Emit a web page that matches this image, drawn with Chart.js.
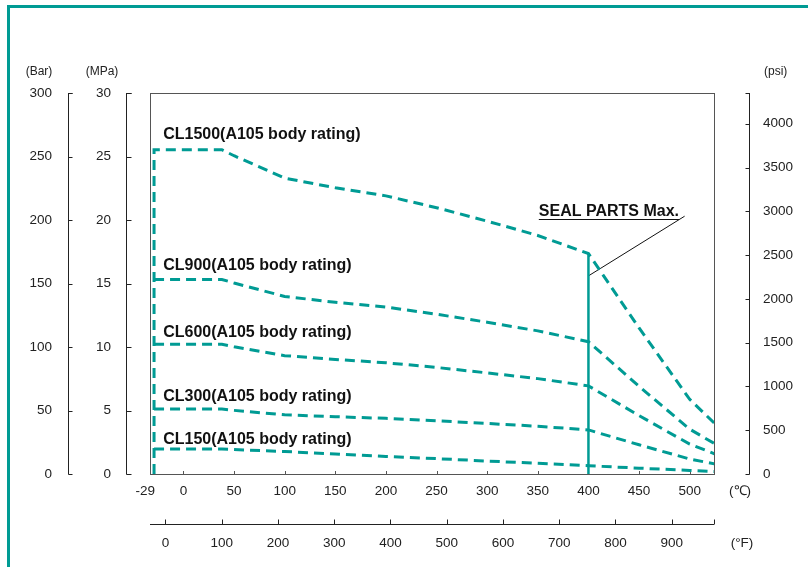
<!DOCTYPE html>
<html>
<head>
<meta charset="utf-8">
<script src="https://cdn.jsdelivr.net/npm/chart.js@4.4.0/dist/chart.umd.min.js"></script>
<style>
  body { margin: 0; background: #fff; }
  #wrap { position: relative; width: 808px; height: 567px; overflow: hidden; }
  #frame { position: absolute; left: 7px; top: 5px; width: 900px; height: 700px;
           border-top: 3px solid #009b94; border-left: 3px solid #009b94; }
  canvas { position: absolute; left: 0; top: 0; }
</style>
</head>
<body>
<div id="wrap">
  <div id="frame"></div>
  <canvas id="chart" width="808" height="567"></canvas>
</div>
<script>
// Pressure-temperature ratings (bar), A105 body
const tempC  = [-29, 38, 50, 100, 150, 200, 250, 300, 350, 400, 450, 500, 538];
const cl150  = [19.6, 19.6, 19.2, 17.7, 15.8, 13.8, 12.1, 10.2, 8.4, 6.5, 4.6, 2.8, 1.4];
const cl300  = [51.1, 51.1, 50.1, 46.6, 45.1, 43.8, 41.9, 39.8, 37.6, 34.7, 23.0, 11.8, 5.9];
const cl600  = [102.1, 102.1, 100.2, 93.2, 90.2, 87.6, 83.9, 79.6, 75.1, 69.4, 46.0, 23.5, 11.8];
const cl900  = [153.2, 153.2, 150.4, 139.8, 135.2, 131.4, 125.8, 119.5, 112.7, 104.2, 69.0, 35.3, 17.7];
const cl1500 = [255.3, 255.3, 250.6, 233.0, 225.4, 219.0, 209.7, 199.1, 187.8, 173.6, 115.0, 58.8, 29.5];

// seal parts limit and its leader line (°C, bar)
const sealC = [400, 400];
const sealBar = [0, 173.6];
const leaderC = [400, 495];
const leaderBar = [156, 203];

// class labels, placed in chart units (°C, bar)
const classNames = ['CL1500(A105 body rating)', 'CL900(A105 body rating)', 'CL600(A105 body rating)',
                    'CL300(A105 body rating)', 'CL150(A105 body rating)'];
const classLabelC = [-20, -20, -20, -20, -20];
const classLabelBar = [267, 164, 111, 61, 27];
const sealText = 'SEAL PARTS Max.';
const sealTextC = 351;
const sealTextBar = 207;

// tick labels
const barTicks = [0, 50, 100, 150, 200, 250, 300];
const mpaTicks = [0, 5, 10, 15, 20, 25, 30];
const psiTicks = [0, 500, 1000, 1500, 2000, 2500, 3000, 3500, 4000];
const cTicks = [-29, 0, 50, 100, 150, 200, 250, 300, 350, 400, 450, 500];
const fTicks = [0, 100, 200, 300, 400, 500, 600, 700, 800, 900];

const C_MIN = -33, C_MAX = 524;
const BAR_TO_PSI = 14.5038;
const TEAL = '#009b94';

function pts(xs, ys) {
    return xs.map((x, i) => ({ x: x, y: ys[i] }));
}

function rating(values, withRiser) {
    const data = pts(tempC, values);
    if (withRiser) data.unshift({ x: tempC[0], y: 0 });
    return {
        data: data,
        borderColor: TEAL,
        borderWidth: 3,
        borderDash: [10, 6],
        pointRadius: 0,
        tension: 0,
        fill: false
    };
}

const tickFont = '13.5px "Liberation Sans", Arial, sans-serif';
const unitFont = '12px "Liberation Sans", Arial, sans-serif';
const boldFont = 'bold 16px "Liberation Sans", Arial, sans-serif';

const axesPlugin = {
    id: 'sideAxes',
    beforeDatasetsDraw(chart) {
        const { ctx, chartArea: a } = chart;
        const x = chart.scales.x;
        ctx.save();
        ctx.strokeStyle = '#555';
        ctx.lineWidth = 1;
        ctx.strokeRect(a.left + 0.5, a.top + 0.5, a.right - a.left, a.bottom - a.top);
        // small ticks on the bottom edge of the frame
        ctx.beginPath();
        cTicks.slice(1).forEach(v => {
            const px = Math.round(x.getPixelForValue(v)) + 0.5;
            ctx.moveTo(px, a.bottom);
            ctx.lineTo(px, a.bottom - 3);
        });
        ctx.stroke();
        ctx.restore();
    },
    afterDraw(chart) {
        const { ctx, chartArea: a, scales } = chart;
        ctx.save();
        ctx.strokeStyle = '#222';
        ctx.fillStyle = '#222';
        ctx.lineWidth = 1;

        // vertical axes: scale, ticks, line x, tick direction, label x, alignment
        const vAxes = [
            { scale: scales.y, ticks: barTicks, x: a.left - 82, dir: 4, lx: a.left - 98, align: 'right' },
            { scale: scales.mpa, ticks: mpaTicks, x: a.left - 24, dir: 5, lx: a.left - 39, align: 'right' },
            { scale: scales.psi, ticks: psiTicks, x: a.right + 35, dir: -4, lx: a.right + 49, align: 'left' }
        ];
        vAxes.forEach(ax => {
            const lx = ax.x + 0.5;
            ctx.beginPath();
            ctx.moveTo(lx, a.top);
            ctx.lineTo(lx, a.bottom + 0.5);
            const marks = ax.ticks.map(v => ax.scale.getPixelForValue(v));
            marks.push(ax.scale.getPixelForValue(ax.scale.max));
            marks.forEach(py => {
                const y = Math.round(py) + 0.5;
                ctx.moveTo(lx, y);
                ctx.lineTo(lx + ax.dir, y);
            });
            ctx.stroke();
            ctx.font = tickFont;
            ctx.textAlign = ax.align;
            ctx.textBaseline = 'middle';
            ax.ticks.forEach(v => {
                ctx.fillText(String(v), ax.lx, ax.scale.getPixelForValue(v));
            });
        });

        // unit captions
        ctx.font = unitFont;
        ctx.textBaseline = 'middle';
        ctx.textAlign = 'center';
        ctx.fillText('(Bar)', a.left - 111, a.top - 21);
        ctx.fillText('(MPa)', a.left - 48, a.top - 21);
        ctx.textAlign = 'left';
        ctx.fillText('(psi)', a.right + 50, a.top - 21);

        // °C labels (the -29 label sits flush against the left edge)
        const x = scales.x;
        ctx.font = tickFont;
        cTicks.forEach((v, i) => {
            ctx.textAlign = i === 0 ? 'right' : 'center';
            const px = x.getPixelForValue(v);
            ctx.fillText(String(v), i === 0 ? px + 1 : px, a.bottom + 17);
        });
        ctx.textAlign = 'center';
        ctx.fillText('(℃)', a.right + 26, a.bottom + 17);

        // °F axis below
        const f = scales.xF;
        const fy = a.bottom + 50.5;
        ctx.beginPath();
        ctx.moveTo(a.left, fy);
        ctx.lineTo(a.right, fy);
        fTicks.map(v => f.getPixelForValue(v)).concat([a.right - 0.5]).forEach(px => {
            const xx = Math.round(px) + 0.5;
            ctx.moveTo(xx, fy);
            ctx.lineTo(xx, fy - 5);
        });
        ctx.stroke();
        fTicks.forEach(v => ctx.fillText(String(v), f.getPixelForValue(v), a.bottom + 69));
        ctx.fillText('(°F)', a.right + 28, a.bottom + 69);

        // class labels
        ctx.fillStyle = '#111';
        ctx.font = boldFont;
        ctx.textAlign = 'left';
        classNames.forEach((t, i) => {
            ctx.fillText(t, x.getPixelForValue(classLabelC[i]), scales.y.getPixelForValue(classLabelBar[i]));
        });

        // seal parts caption, underlined
        const sx = x.getPixelForValue(sealTextC);
        const sy = scales.y.getPixelForValue(sealTextBar);
        ctx.fillText(sealText, sx, sy);
        const w = ctx.measureText(sealText).width;
        ctx.beginPath();
        ctx.moveTo(sx, Math.round(sy + 8) + 0.5);
        ctx.lineTo(sx + w, Math.round(sy + 8) + 0.5);
        ctx.strokeStyle = '#111';
        ctx.stroke();
        ctx.restore();
    }
};

new Chart(document.getElementById('chart'), {
    type: 'line',
    data: {
        datasets: [
            rating(cl1500, true),
            rating(cl900, false),
            rating(cl600, false),
            rating(cl300, false),
            rating(cl150, false),
            {
                data: pts(sealC, sealBar),
                borderColor: TEAL,
                borderWidth: 2.5,
                pointRadius: 0,
                fill: false
            },
            {
                data: pts(leaderC, leaderBar),
                borderColor: '#111',
                borderWidth: 1,
                pointRadius: 0,
                fill: false
            }
        ]
    },
    options: {
        responsive: false,
        animation: false,
        events: [],
        layout: {
            padding: { left: 150, right: 94, top: 93, bottom: 93 }
        },
        plugins: {
            legend: { display: false },
            tooltip: { enabled: false }
        },
        scales: {
            x: { type: 'linear', min: C_MIN, max: C_MAX, display: false },
            xF: { type: 'linear', axis: 'x', position: 'bottom',
                  min: C_MIN * 9 / 5 + 32, max: C_MAX * 9 / 5 + 32, display: false },
            y: { type: 'linear', min: 0, max: 300, display: false },
            mpa: { type: 'linear', axis: 'y', position: 'left', min: 0, max: 30, display: false },
            psi: { type: 'linear', axis: 'y', position: 'right', min: 0, max: 300 * BAR_TO_PSI, display: false }
        }
    },
    plugins: [axesPlugin]
});
</script>
</body>
</html>
